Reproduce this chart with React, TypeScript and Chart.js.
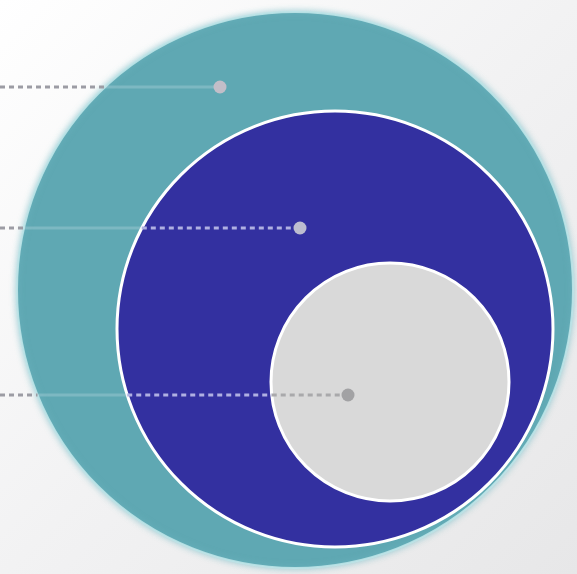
import React, { useEffect, useRef } from "react";
import { Chart, registerables } from "chart.js";

Chart.register(...registerables);

// Nested circles (outer → inner)
const circleNames = ["Outer", "Middle", "Inner"];
const circleX = [295, 335, 390];
const circleY = [290, 329, 382];
const circleR = [278, 218, 119];
const circleFill = ["#5fa8b3", "#3330a0", "#d9d9d9"];
const circleBorder = ["rgba(190,228,232,0.9)", "#ffffff", "#ffffff"];
const circleBorderWidth = [2, 3, 3];

// Guide lines (leader lines ending in a dot)
const guideY = [87, 228, 395];
const guideEnd = [220, 300, 348];
const guideDot = ["#c2bec8", "#bdbdd0", "#a2a2a4"];

// Colours of a guide line by the region it crosses: background, outer, middle, inner
const regionColor = ["#9c9ca4", "rgba(205,228,232,0.28)", "#b0b0e2", "#a9a9ab"];
const regionDash = [[5, 4], [], [5, 4], [5, 4]];

function regionAt(x: number, y: number): number {
  for (let i = circleR.length - 1; i >= 0; i--) {
    const dx = x - circleX[i];
    const dy = y - circleY[i];
    if (dx * dx + dy * dy < circleR[i] * circleR[i]) return i + 1;
  }
  return 0;
}

function guidePoints(y: number, xEnd: number) {
  const xs: number[] = [0, xEnd];
  for (let i = 0; i < circleR.length; i++) {
    const dy = y - circleY[i];
    if (Math.abs(dy) < circleR[i]) {
      const d = Math.sqrt(circleR[i] * circleR[i] - dy * dy);
      [circleX[i] - d, circleX[i] + d].forEach((v) => {
        if (v > 0 && v < xEnd) xs.push(v);
      });
    }
  }
  xs.sort((a, b) => a - b);
  return xs.map((x) => ({ x, y }));
}

const bgPlugin = {
  id: "bg",
  beforeDraw(chart: any) {
    const { ctx, width, height } = chart;
    ctx.save();
    const g = ctx.createLinearGradient(0, 0, width, height);
    g.addColorStop(0, "#ffffff");
    g.addColorStop(0.5, "#f2f2f3");
    g.addColorStop(1, "#e7e7e8");
    ctx.fillStyle = g;
    ctx.fillRect(0, 0, width, height);
    ctx.restore();
  },
};

const glowPlugin = {
  id: "glow",
  beforeDatasetDraw(chart: any, args: any) {
    const ds = chart.data.datasets[args.index];
    if (ds.glow) {
      chart.ctx.save();
      chart.ctx.shadowColor = ds.glow;
      chart.ctx.shadowBlur = 6;
    }
  },
  afterDatasetDraw(chart: any, args: any) {
    const ds = chart.data.datasets[args.index];
    if (ds.glow) chart.ctx.restore();
  },
};

export default function App() {
  const ref = useRef<HTMLCanvasElement>(null);

  useEffect(() => {
    if (!ref.current) return;
    const radiusPx = (chart: any, r: number) => {
      const s = chart.scales.x;
      return Math.abs(s.getPixelForValue(r) - s.getPixelForValue(0));
    };

    const circleSets = circleNames.map((name, i) => ({
      type: "scatter" as const,
      label: name,
      data: [{ x: circleX[i], y: circleY[i] }],
      backgroundColor: circleFill[i],
      borderColor: circleBorder[i],
      borderWidth: circleBorderWidth[i],
      pointRadius: (ctx: any) => radiusPx(ctx.chart, circleR[i]),
      pointHoverRadius: (ctx: any) => radiusPx(ctx.chart, circleR[i]),
      order: 10 - i,
      clip: false,
      glow: i === 0 ? "rgba(120,190,200,0.7)" : undefined,
    }));

    const guideSets = guideY.map((y, i) => {
      const pts = guidePoints(y, guideEnd[i]);
      return {
        type: "line" as const,
        label: "guide" + i,
        data: pts,
        borderWidth: 3,
        borderColor: regionColor[0],
        tension: 0,
        segment: {
          borderColor: (ctx: any) =>
            regionColor[regionAt((ctx.p0.parsed.x + ctx.p1.parsed.x) / 2, y)],
          borderDash: (ctx: any) =>
            regionDash[regionAt((ctx.p0.parsed.x + ctx.p1.parsed.x) / 2, y)],
        },
        pointRadius: (ctx: any) => (ctx.dataIndex === pts.length - 1 ? 6.5 : 0),
        pointHoverRadius: (ctx: any) => (ctx.dataIndex === pts.length - 1 ? 6.5 : 0),
        pointBackgroundColor: guideDot[i],
        pointBorderWidth: 0,
        order: 0,
        clip: false,
      };
    });

    const chart = new Chart(ref.current, {
      type: "scatter",
      data: { datasets: [...guideSets, ...circleSets] as any },
      options: {
        animation: false,
        responsive: true,
        maintainAspectRatio: false,
        events: [],
        layout: { padding: 0, autoPadding: false },
        plugins: { legend: { display: false }, tooltip: { enabled: false } },
        scales: {
          x: { type: "linear", min: 0, max: 577, display: false },
          y: { type: "linear", min: 0, max: 574, reverse: true, display: false },
        },
      },
      plugins: [bgPlugin, glowPlugin],
    });
    return () => chart.destroy();
  }, []);

  return (
    <div style={{ position: "fixed", left: 0, top: 0, width: 577, height: 574 }}>
      <canvas ref={ref} />
    </div>
  );
}
